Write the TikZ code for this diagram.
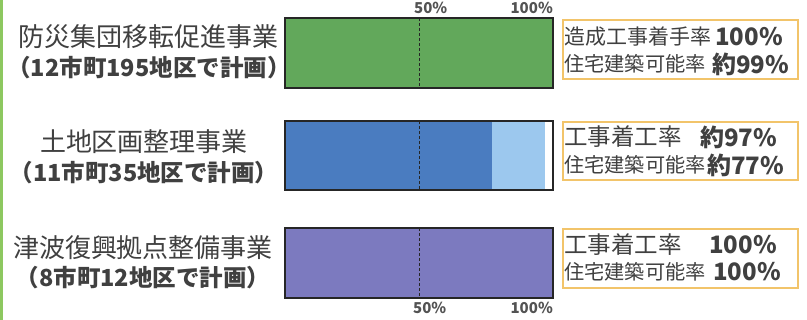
\documentclass[tikz,border=0pt]{standalone}
\usepackage{fontspec}
\newfontfamily\jp{Noto Sans CJK JP}
\definecolor{txt}{HTML}{404040}
\definecolor{gfill}{HTML}{62A85B}
\definecolor{bdark}{HTML}{4A7CC0}
\definecolor{blight}{HTML}{9CC8EE}
\definecolor{pfill}{HTML}{7C7ABF}
\definecolor{boxline}{HTML}{F2C46A}
\definecolor{strip}{HTML}{8DC860}
\begin{document}
\begin{tikzpicture}[x=1pt,y=-1pt,
  bar/.style={draw=black!85,line width=1.2pt},
  half/.style={draw=black!85,line width=0.9pt,dash pattern=on 3pt off 2pt},
  infobox/.style={draw=boxline,line width=1.5pt},
  namea/.style={font=\jp\fontsize{26}{26}\selectfont,text=txt,inner sep=0pt},
  nameb/.style={font=\jp\bfseries\fontsize{23.5}{24}\selectfont,text=txt,inner sep=0pt},
  kan/.style={font=\jp\fontsize{21}{21}\selectfont,text=txt,inner sep=0pt,anchor=west},
  kanc/.style={kan,font=\jp\fontsize{20.2}{21}\selectfont},
  num/.style={font=\jp\bfseries\fontsize{24}{24}\selectfont,text=txt,inner sep=0pt,anchor=west},
  pct/.style={font=\jp\bfseries\fontsize{15}{15}\selectfont,text=txt!90,inner sep=0pt}]
\useasboundingbox (0,0) rectangle (807,320);
\fill[white] (0,0) rectangle (807,320);
\fill[strip] (0,0) rectangle (3,320);

% left labels
\node[namea] (n1a) at (149,37) {防災集団移転促進事業};
\node[nameb] (n1b) at (149,68) {（12市町195地区で計画）};
\node[namea] (n2a) at (144,142) {土地区画整理事業};
\node[nameb] (n2b) at (144,173) {（11市町35地区で計画）};
\node[namea] (n3a) at (143,248) {津波復興拠点整備事業};
\node[nameb] (n3b) at (143,278) {（8市町12地区で計画）};

% bars
\fill[gfill] (285,18) rectangle (553,88);
\draw[bar] (285,18) rectangle (553,88);
\draw[half] (419,18) -- (419,88);

\fill[bdark] (285,121) rectangle (492,190);
\fill[blight] (492,121) rectangle (545,190);
\draw[bar] (285,121) rectangle (553,190);
\draw[half] (419,121) -- (419,190);

\fill[pfill] (285,228) rectangle (553,298);
\draw[bar] (285,228) rectangle (553,298);
\draw[half] (419,228) -- (419,298);

% percent labels
\node[pct,anchor=west] (p1) at (414,8) {50\%};
\node[pct,anchor=east] (p2) at (553,8) {100\%};
\node[pct,anchor=west] (p3) at (413,308) {50\%};
\node[pct,anchor=east] (p4) at (553,308) {100\%};

% info boxes
\draw[infobox] (563,20) rectangle (798,79);
\draw[infobox] (563,122) rectangle (798,180);
\draw[infobox] (563,229) rectangle (798,288);

\node[kan] (k1a) at (564,37) {造成工事着手率};
\node[num] (v1a) at (715,37) {100\%};
\node[kanc] (k1b) at (564,64) {住宅建築可能率};
\node[num] (v1b) at (712,64) {約99\%};

\node[kan,font=\jp\fontsize{23.5}{24}\selectfont] (k2a) at (564,137) {工事着工率};
\node[num] (v2a) at (700,137) {約97\%};
\node[kanc] (k2b) at (564,165) {住宅建築可能率};
\node[num] (v2b) at (707,165) {約77\%};

\node[kan,font=\jp\fontsize{23.5}{24}\selectfont] (k3a) at (564,245) {工事着工率};
\node[num] (v3a) at (709,245) {100\%};
\node[kanc] (k3b) at (564,272) {住宅建築可能率};
\node[num] (v3b) at (713,272) {100\%};
\end{tikzpicture}
\end{document}
